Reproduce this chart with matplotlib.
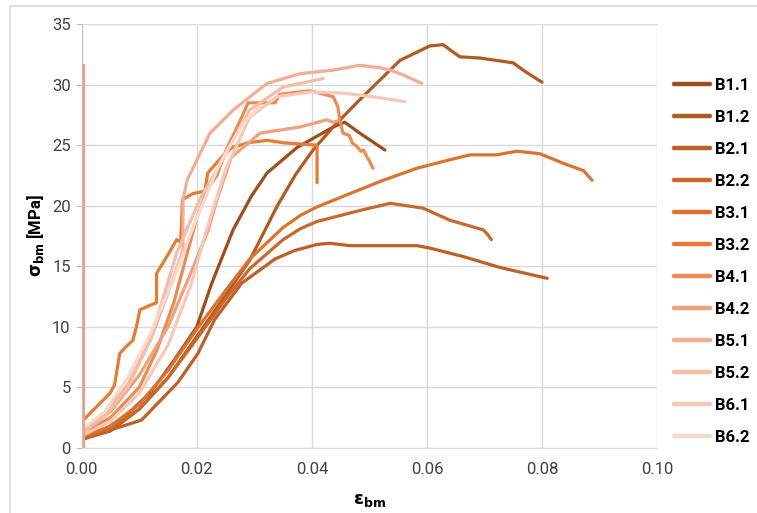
import matplotlib.pyplot as plt
from matplotlib.patches import Rectangle

plt.rcParams['font.family'] = ['Roboto', 'DejaVu Sans']

names = ['B1.1', 'B1.2', 'B2.1', 'B2.2', 'B3.1', 'B3.2',
         'B4.1', 'B4.2', 'B5.1', 'B5.2', 'B6.1', 'B6.2']
colors = ['#9E4E1D', '#B15A22', '#BD6127', '#C9682B', '#DA7330', '#E47C36',
          '#EB8A52', '#EFA07F', '#F2AE94', '#F5BCA6', '#F7C8B8', '#F9D7CB']

b11_x = [0, 0.004, 0.008, 0.012, 0.016, 0.02, 0.0226, 0.0263, 0.0295, 0.0322, 0.0374, 0.0437,
         0.0457, 0.0483, 0.0527]
b11_y = [0.8, 1.5, 2.8, 4.6, 7.2, 10.0, 13.6, 18.0, 20.8, 22.7, 24.8, 26.5, 26.9, 26.0, 24.6]

b12_x = [0, 0.005, 0.01, 0.015, 0.02, 0.025, 0.0292, 0.034, 0.0372, 0.0402, 0.0437, 0.048, 0.0553,
         0.0605, 0.0628, 0.0657, 0.0692, 0.075, 0.0767, 0.08]
b12_y = [0.7, 1.4, 3.2, 5.8, 9.2, 12.6, 15.5, 20.0, 22.6, 24.6, 26.5, 28.6, 32.0,
         33.2, 33.3, 32.3, 32.2, 31.8, 31.2, 30.2]

b21_x = [0, 0.0104, 0.0167, 0.0202, 0.0231, 0.0278, 0.0336, 0.037, 0.0409, 0.0431, 0.0466,
         0.0583, 0.0605, 0.0663, 0.0727, 0.0809]
b21_y = [0.7, 2.3, 5.4, 7.8, 10.6, 13.6, 15.6, 16.3, 16.8, 16.9, 16.7, 16.7, 16.5, 15.8, 14.9, 14.0]

b22_x = [0, 0.005, 0.01, 0.015, 0.02, 0.025, 0.0292, 0.035, 0.038, 0.0409, 0.0483, 0.0536,
         0.0593, 0.064, 0.0698, 0.0706, 0.0712]
b22_y = [0.8, 1.6, 3.2, 5.8, 9.0, 12.3, 14.8, 17.2, 18.1, 18.7, 19.6, 20.2,
         19.8, 18.8, 18.0, 17.6, 17.2]

b31_x = [0, 0.005, 0.01, 0.015, 0.02, 0.025, 0.0292, 0.035, 0.038, 0.0409, 0.0466, 0.0524, 0.0583,
         0.064, 0.0675, 0.0721, 0.0756, 0.0796, 0.0837, 0.0872, 0.0887]
b31_y = [0.9, 1.8, 3.6, 6.4, 9.8, 13.0, 15.6, 18.2, 19.2, 19.9, 21.0, 22.1, 23.1,
         23.8, 24.2, 24.2, 24.5, 24.3, 23.5, 22.9, 22.1]

b32_x = [0.0003, 0.003, 0.0049, 0.0057, 0.0066, 0.0078, 0.0089, 0.0095, 0.0101, 0.012, 0.013,
         0.013, 0.0148, 0.0165, 0.0172, 0.0175, 0.0193, 0.0214, 0.0219, 0.0243, 0.0261,
         0.0289, 0.0322, 0.035, 0.0379, 0.0409, 0.0409]
b32_y = [2.3, 3.6, 4.5, 5.2, 7.8, 8.4, 8.9, 10.0, 11.4, 11.8, 12.0, 14.4, 15.8, 17.2, 17.0,
         20.5, 21.0, 21.2, 22.7, 24.0, 24.8, 25.2, 25.4, 25.2, 25.1, 25.0, 21.9]

b41_x = [0, 0.005, 0.01, 0.013, 0.016, 0.018, 0.02, 0.022, 0.0235, 0.025, 0.0265, 0.0278,
         0.0289, 0.0336, 0.0344, 0.0397, 0.0437, 0.0445, 0.0449, 0.0454, 0.0465, 0.047,
         0.0478, 0.0485, 0.049, 0.0496, 0.05, 0.0506]
b41_y = [1.2, 2.5, 5.0, 8.0, 12.0, 15.5, 19.0, 21.5, 22.5, 24.5, 26.0, 27.3,
         28.5, 28.5, 29.2, 29.5, 29.0, 28.2, 27.0, 26.0, 25.8, 25.2,
         24.9, 24.5, 24.6, 24.0, 23.7, 23.1]

b42_x = [0, 0.005, 0.01, 0.015, 0.019, 0.022, 0.0235, 0.026, 0.031, 0.0379, 0.0426, 0.0437, 0.0445]
b42_y = [1.3, 3.0, 6.0, 10.0, 14.5, 18.0, 20.5, 24.0, 26.0, 26.5, 27.1, 26.9, 27.0]
b42_spike_x = [0.0003, 0.0003]
b42_spike_y = [0, 31.6]

b51_x = [0, 0.004, 0.008, 0.012, 0.015, 0.0176, 0.0176, 0.0183, 0.0223, 0.0263, 0.0322,
         0.0379, 0.0437, 0.0483, 0.0518, 0.0536, 0.0559, 0.0591]
b51_y = [1.3, 2.8, 5.2, 9.0, 12.8, 16.3, 20.5, 22.1, 26.0, 27.9, 30.1,
         30.9, 31.2, 31.6, 31.4, 31.2, 30.8, 30.1]

b52_x = [0, 0.004, 0.008, 0.012, 0.0165, 0.0205, 0.0245, 0.0292, 0.035, 0.042]
b52_y = [1.2, 2.6, 5.0, 9.0, 16.1, 20.5, 23.8, 27.9, 29.8, 30.5]

b61_x = [0, 0.005, 0.01, 0.015, 0.019, 0.0217, 0.025, 0.0292, 0.0339, 0.0397, 0.0454, 0.0506, 0.0562]
b61_y = [1.0, 2.2, 4.5, 8.5, 13.5, 18.0, 23.0, 27.3, 29.0, 29.4, 29.3, 29.0, 28.6]

b62_x = [0, 0.004, 0.008, 0.012, 0.016, 0.02, 0.024, 0.028, 0.031]
b62_y = [1.5, 3.0, 5.8, 9.5, 14.0, 19.0, 23.5, 26.8, 28.2]

series_x = [b11_x, b12_x, b21_x, b22_x, b31_x, b32_x, b41_x, b42_x, b51_x, b52_x, b61_x, b62_x]
series_y = [b11_y, b12_y, b21_y, b22_y, b31_y, b32_y, b41_y, b42_y, b51_y, b52_y, b61_y, b62_y]

fig = plt.figure(figsize=(7.57, 5.13), dpi=100)
fig.patches.append(Rectangle((0.013, -0.05), 1.1, 1.038, transform=fig.transFigure,
                             fill=False, edgecolor='#D9D9D9', linewidth=1.2))
ax = fig.add_axes([0.108, 0.127, 0.76, 0.826])

lines = []
for i in range(len(names)):
    ln, = ax.plot(series_x[i], series_y[i], color=colors[i], linewidth=2.3,
                  solid_capstyle='round', solid_joinstyle='round', label=names[i])
    lines.append(ln)
ax.plot(b42_spike_x, b42_spike_y, color=colors[7], linewidth=2.3)

ax.set_xlim(0, 0.10)
ax.set_ylim(0, 35)
ax.set_xticks([0, 0.02, 0.04, 0.06, 0.08, 0.10])
ax.set_xticklabels(['0.00', '0.02', '0.04', '0.06', '0.08', '0.10'])
ax.set_yticks(range(0, 36, 5))
ax.grid(True, color='#D9D9D9', linewidth=1)
ax.set_axisbelow(True)
for s in ['top', 'right']:
    ax.spines[s].set_visible(False)
ax.spines['left'].set_color('#BFBFBF')
ax.spines['bottom'].set_color('#D9D9D9')
ax.tick_params(axis='x', length=0, labelsize=12, pad=10, colors='#404040')
ax.tick_params(axis='y', length=4, color='#BFBFBF', labelsize=12, pad=4, colors='#404040')
ax.set_xlabel(r'$\mathbf{\varepsilon_{bm}}$', fontsize=13, labelpad=10)
ax.set_ylabel(r'$\mathbf{\sigma_{bm}}$ [MPa]', fontsize=12, fontweight='bold', labelpad=4)

fig.legend(handles=lines, loc='center left', bbox_to_anchor=(0.87, 0.49),
           frameon=False, prop={'weight': 'bold', 'size': 12},
           handlelength=2.2, handletextpad=0.3, labelspacing=1.02)
for h in fig.legends[0].get_lines():
    h.set_linewidth(3.2)

plt.savefig('out.png', dpi=100)
